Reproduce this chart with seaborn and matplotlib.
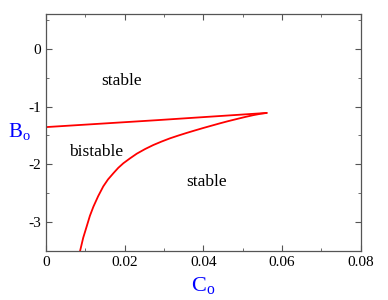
import matplotlib
matplotlib.use("Agg")
import matplotlib.pyplot as plt
import seaborn as sns
import pandas as pd
from matplotlib.ticker import MultipleLocator

sns.set_style("ticks")
plt.rcParams["font.family"] = ["Liberation Serif", "DejaVu Serif"]
plt.rcParams["mathtext.fontset"] = "custom"
plt.rcParams["mathtext.rm"] = "Liberation Serif"

# boundary branches of the bistable region
upper_c = [0.0, 0.028, 0.0561]
upper_b = [-1.355, -1.236, -1.11]
lower_c = [0.0087, 0.0095, 0.0104, 0.0112, 0.0121, 0.0133, 0.0146, 0.0158, 0.0172,
           0.0184, 0.0197, 0.0214, 0.0231, 0.0252, 0.0273, 0.0294, 0.0315, 0.0337,
           0.0358, 0.0379, 0.0400, 0.0421, 0.0442, 0.0463, 0.0485, 0.0506, 0.0527,
           0.0545, 0.0561]
lower_b = [-3.50, -3.27, -3.07, -2.89, -2.73, -2.55, -2.38, -2.26, -2.15,
           -2.06, -1.98, -1.895, -1.815, -1.735, -1.665, -1.605, -1.55, -1.50,
           -1.455, -1.412, -1.37, -1.33, -1.29, -1.252, -1.215, -1.18, -1.148,
           -1.125, -1.11]

region_labels = ["stable", "bistable", "stable"]
label_c = [0.0193, 0.0128, 0.0408]
label_b = [-0.56, -1.79, -2.31]

upper = pd.DataFrame({"C": upper_c, "B": upper_b})
lower = pd.DataFrame({"C": lower_c, "B": lower_b})

fig, ax = plt.subplots(figsize=(3.88, 3.0), dpi=100)
sns.lineplot(data=upper, x="C", y="B", color="red", lw=1.3, ax=ax, sort=False)
sns.lineplot(data=lower, x="C", y="B", color="red", lw=1.3, ax=ax, sort=False)

for t, c, b in zip(region_labels, label_c, label_b):
    ax.text(c, b, t, ha="center", va="center", fontsize=12.5, color="black")

ax.set_xlim(0, 0.08)
ax.set_ylim(-3.5, 0.6)
ax.xaxis.set_major_locator(MultipleLocator(0.02))
ax.xaxis.set_minor_locator(MultipleLocator(0.01))
ax.yaxis.set_major_locator(MultipleLocator(1))
ax.yaxis.set_minor_locator(MultipleLocator(0.5))
ax.xaxis.set_major_formatter(plt.FuncFormatter(lambda v, p: "0" if v == 0 else f"{v:.2f}"))
ax.yaxis.set_major_formatter(plt.FuncFormatter(lambda v, p: f"{v:.0f}"))
ax.tick_params(which="both", direction="in", top=True, right=True, colors="#555555",
               labelcolor="black", labelsize=11)
ax.tick_params(which="major", length=4)
ax.tick_params(which="minor", length=2.5)
for s in ax.spines.values():
    s.set_color("#555555")
    s.set_linewidth(0.9)

ax.set_xlabel(r"$\mathregular{C_o}$", color="blue", fontsize=16, labelpad=4)
ax.set_ylabel(r"$\mathregular{B_o}$", color="blue", fontsize=15, rotation=0)
ax.yaxis.set_label_coords(-0.085, 0.46)

fig.subplots_adjust(left=0.118, right=0.93, top=0.953, bottom=0.163)
fig.savefig("out.png", dpi=100)
